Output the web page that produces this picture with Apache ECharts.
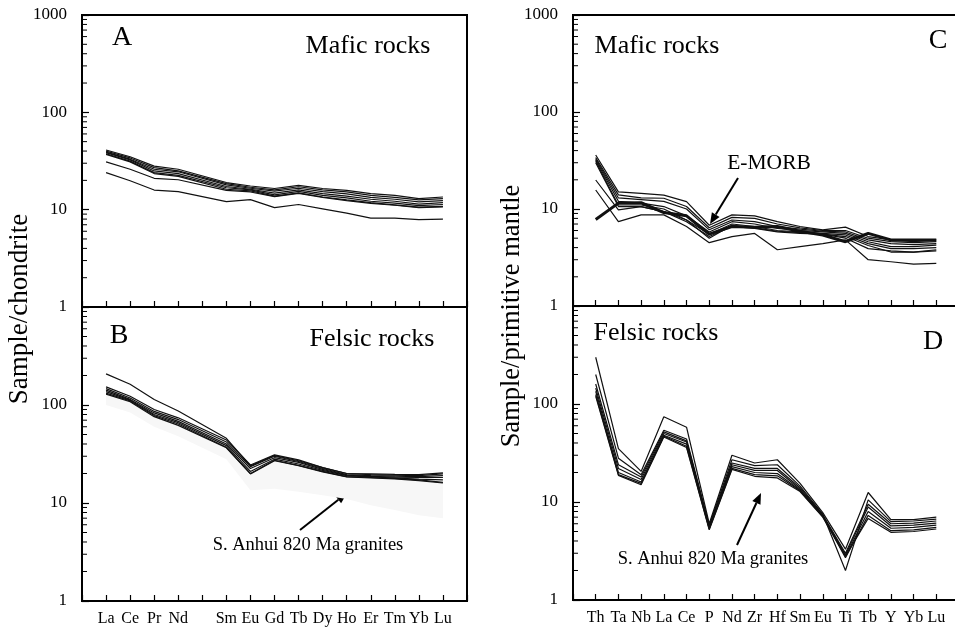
<!DOCTYPE html>
<html>
<head>
<meta charset="utf-8">
<script src="https://cdn.jsdelivr.net/npm/echarts@6/dist/echarts.min.js"></script>
<style>
  html, body { margin: 0; padding: 0; background: #fff; }
  #main { width: 955px; height: 631px; }
</style>
</head>
<body>
<div id="main"></div>
<script>
// 稀土元素（Pm 位置留空）
var REE = ['La', 'Ce', 'Pr', 'Nd', '', 'Sm', 'Eu', 'Gd', 'Tb', 'Dy', 'Ho', 'Er', 'Tm', 'Yb', 'Lu'];
// 微量元素蛛网图
var SPIDER = ['Th', 'Ta', 'Nb', 'La', 'Ce', 'P', 'Nd', 'Zr', 'Hf', 'Sm', 'Eu', 'Ti', 'Tb', 'Y', 'Yb', 'Lu'];
// 对数轴次刻度
var MINOR = [2, 3, 4, 5, 6, 7, 8, 9, 20, 30, 40, 50, 60, 70, 80, 90, 200, 300, 400, 500, 600, 700, 800, 900];

// A 基性岩 球粒陨石标准化
var mafREE1 = [41, 35, 28, 26, null, 19, 17.5, 16.5, 17.8, 16.5, 15.8, 14.6, 14, 13, 13.5];
var mafREE2 = [40, 34, 27, 25, null, 18.5, 17, 16, 17.2, 16, 15.2, 14, 13.4, 12.6, 13];
var mafREE3 = [39, 33, 26, 24.5, null, 18, 16.6, 15.5, 16.6, 15.3, 14.5, 13.4, 12.8, 12, 12.4];
var mafREE4 = [38.5, 32.5, 25, 23.5, null, 17.3, 16.2, 14.8, 16, 14.6, 13.8, 12.8, 12.2, 11.4, 11.8];
var mafREE5 = [37.5, 31.5, 24, 22.5, null, 16.8, 16, 14.2, 15.4, 14, 13.2, 12.2, 11.7, 11, 11.3];
var mafREE6 = [37, 31, 23.5, 22, null, 16.2, 15.6, 13.8, 14.9, 13.5, 12.6, 11.8, 11.2, 10.6, 10.8];
var mafREE7 = [31, 26, 21, 20.3, null, 15.8, 15.2, 13.6, 14.7, 13.4, 12.4, 11.6, 11.1, 10.5, 10.7];
var mafREE8 = [24, 19.8, 15.9, 15.3, null, 12.1, 12.7, 10.5, 11.3, 10.2, 9.2, 8.2, 8.2, 7.9, 8];

// B 酸性岩
var felREE1 = [208, 163, 114, 87, null, 45.7, 23.9, 30.5, 27, 23, 20, 19.8, 19.6, 19.5, 20.3];
var felREE2 = [153, 123, 90, 74, null, 44, 24.4, 31, 27.5, 23, 20, 19.5, 19.2, 19, 19.8];
var felREE3 = [147, 118, 86, 71, null, 42, 23.5, 30, 26.5, 22.5, 19.5, 19, 18.8, 18.6, 19];
var felREE4 = [142, 114, 83, 68, null, 40, 22.5, 29, 26, 22, 19.2, 18.7, 18.4, 18.2, 18.2];
var felREE5 = [137, 112, 80, 66, null, 38.5, 21, 28, 25, 21.5, 19, 18.5, 18, 17.5, 17.2];
var felREE6 = [132, 110, 78, 64, null, 37, 20, 27.3, 24.2, 21, 18.6, 18.2, 17.8, 17.2, 16.2];
var felREE7 = [129, 108, 76, 62, null, 36.6, 19.8, 27, 24, 20.8, 18.5, 18, 17.6, 16.9, 16];
// 皖南 820 Ma 花岗岩范围（点状阴影）
var fieldLow = [100, 84, 60, 48, null, 28, 13.5, 14, 13, 12, 11, 9.5, 8.5, 7.5, 7];

// C 基性岩 原始地幔标准化
var mafSp1 = [36, 15, 14.5, 13.9, 11.9, 6.8, 8.7, 8.5, 7.4, 6.6, 6.1, 6.5, 5.2, 4.8, 4.6, 4.8];
var mafSp2 = [34, 14, 13, 12.9, 10.6, 6.4, 8.2, 8.0, 7.0, 6.4, 6.0, 6.0, 5.0, 4.6, 4.5, 4.6];
var mafSp3 = [33, 13, 12.5, 12, 10, 6.1, 7.7, 7.4, 6.6, 6.2, 5.9, 5.8, 4.8, 4.4, 4.3, 4.4];
var mafSp4 = [32, 12, 11.5, 10.6, 8.5, 5.8, 7.4, 7.0, 6.3, 6.0, 5.8, 5.6, 4.6, 4.1, 4.1, 4.25];
var mafSp5 = [31, 11, 11, 10, 7.7, 5.5, 7.0, 6.6, 6.0, 5.8, 5.6, 5.4, 4.4, 3.9, 3.9, 4.0];
var mafSp6 = [30, 10.6, 10.6, 9.4, 7.4, 5.2, 6.6, 6.3, 5.8, 5.6, 5.5, 5.2, 4.2, 3.6, 3.6, 3.8];
var mafSp7 = [19.9, 9.8, 10.6, 9.4, 7.7, 5.0, 6.8, 6.4, 5.9, 5.7, 5.5, 5.0, 3.9, 3.7, 3.6, 3.7];
var mafSp8 = [15.7, 7.4, 8.7, 8.7, 6.6, 4.5, 5.2, 5.6, 3.8, 4.1, 4.4, 4.8, 3.0, 2.86, 2.7, 2.75];
var eMorb = [7.8, 11.5, 11.6, 9.2, 8.5, 5.5, 6.6, 6.5, 6.6, 5.9, 5.4, 4.6, 5.6, 4.8, 4.8, 4.8];

// D 酸性岩
var felSp1 = [300, 35, 20.5, 74, 58, 6.0, 30, 25, 27, 15.5, 7.8, 3.3, 12.5, 6.6, 6.6, 7.0];
var felSp2 = [200, 28, 19, 54, 44, 5.8, 27, 23.5, 24, 14.5, 7.5, 2.0, 10.5, 6.3, 6.4, 6.7];
var felSp3 = [160, 24, 18, 52, 42, 5.6, 25, 22, 22, 14, 7.4, 3.0, 9.5, 6.0, 6.1, 6.4];
var felSp4 = [145, 22, 17, 50, 41, 5.5, 24, 21, 21, 13.5, 7.3, 2.9, 8.9, 5.7, 5.8, 6.1];
var felSp5 = [135, 20, 16, 48, 39, 5.4, 23, 20, 19.5, 13.2, 7.2, 2.8, 8.0, 5.4, 5.5, 5.8];
var felSp6 = [125, 19, 15.5, 47, 37, 5.3, 22, 19, 18.5, 13, 7.1, 2.7, 7.3, 5.1, 5.2, 5.5];
var felSp7 = [120, 18.7, 15, 46, 36, 5.2, 21.5, 18.3, 17.6, 12.8, 7.0, 2.8, 6.8, 4.9, 5.0, 5.3];

var FONT = '"Liberation Serif", "Times New Roman", serif';

var myChart = echarts.init(document.getElementById('main'));

function toPairs(arr) {
    return arr.map(function (v, i) { return [i, v]; });
}

function lineSeries(arr, idx, width) {
    return {
        type: 'line',
        xAxisIndex: idx,
        yAxisIndex: idx,
        data: toPairs(arr),
        symbol: 'none',
        connectNulls: true,
        silent: true,
        lineStyle: {color: '#111', width: width || 1.2},
        z: 3
    };
}

//对数轴次刻度（朝内）
function minorSeries(idx) {
    return {
        type: 'custom',
        xAxisIndex: idx,
        yAxisIndex: idx,
        silent: true,
        data: MINOR.map(function (v) { return [-1, v]; }),
        renderItem: function (params, api) {
            var p = api.coord([api.value(0), api.value(1)]);
            return {
                type: 'line',
                shape: {x1: p[0], y1: p[1], x2: p[0] + 5, y2: p[1]},
                style: {stroke: '#000', lineWidth: 1}
            };
        }
    };
}

function xAxis(idx, max, labels, showLabel) {
    return {
        type: 'value',
        gridIndex: idx,
        min: -1,
        max: max,
        interval: 1,
        axisLine: {onZero: false, lineStyle: {color: '#000', width: 2}},
        axisTick: {inside: true, length: 6, lineStyle: {color: '#000', width: 1.2}},
        splitLine: {show: false},
        axisLabel: {
            show: showLabel,
            margin: 10,
            color: '#000',
            fontFamily: FONT,
            fontSize: 16,
            formatter: function (v) { return labels[v] || ''; }
        }
    };
}

function yAxis(idx, showMax) {
    return {
        type: 'log',
        logBase: 10,
        gridIndex: idx,
        min: 1,
        max: 1000,
        axisLine: {onZero: false, lineStyle: {color: '#000', width: 2}},
        axisTick: {inside: true, length: 7, lineStyle: {color: '#000', width: 1.2}},
        splitLine: {show: false},
        axisLabel: {
            showMaxLabel: showMax,
            margin: 15,
            color: '#000',
            fontFamily: FONT,
            fontSize: 17,
            formatter: function (v) { return String(Math.round(v)); }
        }
    };
}

function arrow(x1, y1, x2, y2) {
    var a = Math.atan2(y2 - y1, x2 - x1), L = 11, W = 4.5;
    var bx = x2 - L * Math.cos(a), by = y2 - L * Math.sin(a);
    return [{
        type: 'line', silent: true,
        shape: {x1: x1, y1: y1, x2: bx, y2: by},
        style: {stroke: '#000', lineWidth: 2}
    }, {
        type: 'polygon', silent: true,
        shape: {points: [[x2, y2], [bx + W * Math.sin(a), by - W * Math.cos(a)], [bx - W * Math.sin(a), by + W * Math.cos(a)]]},
        style: {fill: '#000'}
    }];
}

function label(text, x, y, size, rot) {
    return {
        type: 'text', silent: true,
        x: x, y: y, rotation: rot || 0,
        style: {text: text, fill: '#000', fontFamily: FONT, fontSize: size, align: 'center', verticalAlign: 'middle'}
    };
}

var gridStyle = {show: true, borderColor: '#000', borderWidth: 2, backgroundColor: 'transparent', outerBoundsMode: 'none', containLabel: false};

var option = {
    animation: false,
    backgroundColor: '#fff',
    grid: [
        Object.assign({left: 82, top: 15, width: 385, height: 292}, gridStyle),
        Object.assign({left: 82, top: 307, width: 385, height: 294}, gridStyle),
        Object.assign({left: 573, top: 15, width: 386, height: 291}, gridStyle),
        Object.assign({left: 573, top: 306, width: 386, height: 294}, gridStyle)
    ],
    xAxis: [
        xAxis(0, 15, REE, false),
        xAxis(1, 15, REE, true),
        xAxis(2, 16, SPIDER, false),
        xAxis(3, 16, SPIDER, true)
    ],
    yAxis: [
        yAxis(0, true),
        yAxis(1, false),
        yAxis(2, true),
        yAxis(3, false)
    ],
    series: [
        //B 图花岗岩范围阴影
        {
            type: 'custom',
            xAxisIndex: 1,
            yAxisIndex: 1,
            silent: true,
            data: [0],
            z: 1,
            renderItem: function (params, api) {
                var top = [], bottom = [];
                felREE7.forEach(function (v, i) {
                    if (v != null) top.push(api.coord([i, v]));
                });
                fieldLow.forEach(function (v, i) {
                    if (v != null) bottom.push(api.coord([i, v]));
                });
                return {
                    type: 'polygon',
                    shape: {points: top.concat(bottom.reverse())},
                    style: {fill: '#f7f7f7'}
                };
            }
        },
        minorSeries(0), minorSeries(1), minorSeries(2), minorSeries(3),
        lineSeries(mafREE1, 0), lineSeries(mafREE2, 0), lineSeries(mafREE3, 0), lineSeries(mafREE4, 0),
        lineSeries(mafREE5, 0), lineSeries(mafREE6, 0), lineSeries(mafREE7, 0), lineSeries(mafREE8, 0),
        lineSeries(felREE1, 1), lineSeries(felREE2, 1), lineSeries(felREE3, 1), lineSeries(felREE4, 1),
        lineSeries(felREE5, 1), lineSeries(felREE6, 1), lineSeries(felREE7, 1),
        lineSeries(eMorb, 2, 3),
        lineSeries(mafSp1, 2), lineSeries(mafSp2, 2), lineSeries(mafSp3, 2), lineSeries(mafSp4, 2),
        lineSeries(mafSp5, 2), lineSeries(mafSp6, 2), lineSeries(mafSp7, 2), lineSeries(mafSp8, 2),
        lineSeries(felSp1, 3), lineSeries(felSp2, 3), lineSeries(felSp3, 3), lineSeries(felSp4, 3),
        lineSeries(felSp5, 3), lineSeries(felSp6, 3), lineSeries(felSp7, 3)
    ],
    graphic: [
        label('A', 122, 38, 28),
        label('Mafic rocks', 368, 46, 26),
        label('B', 119, 336, 28),
        label('Felsic rocks', 372, 339, 26),
        label('S. Anhui 820 Ma granites', 308, 545, 18.5),
        label('C', 938, 41, 28),
        label('Mafic rocks', 657, 46, 26),
        label('E-MORB', 769, 163, 21.5),
        label('D', 933, 342, 28),
        label('Felsic rocks', 656, 333, 26),
        label('S. Anhui 820 Ma granites', 713, 559, 18.5),
        label('Sample/chondrite', 20, 309, 27, Math.PI / 2),
        label('Sample/primitive mantle', 512, 316, 26.5, Math.PI / 2)
    ].concat(arrow(300, 530, 347, 493))
     .concat(arrow(738, 178, 710, 224))
     .concat(arrow(737, 545, 761, 493))
};

myChart.setOption(option);
</script>
</body>
</html>
